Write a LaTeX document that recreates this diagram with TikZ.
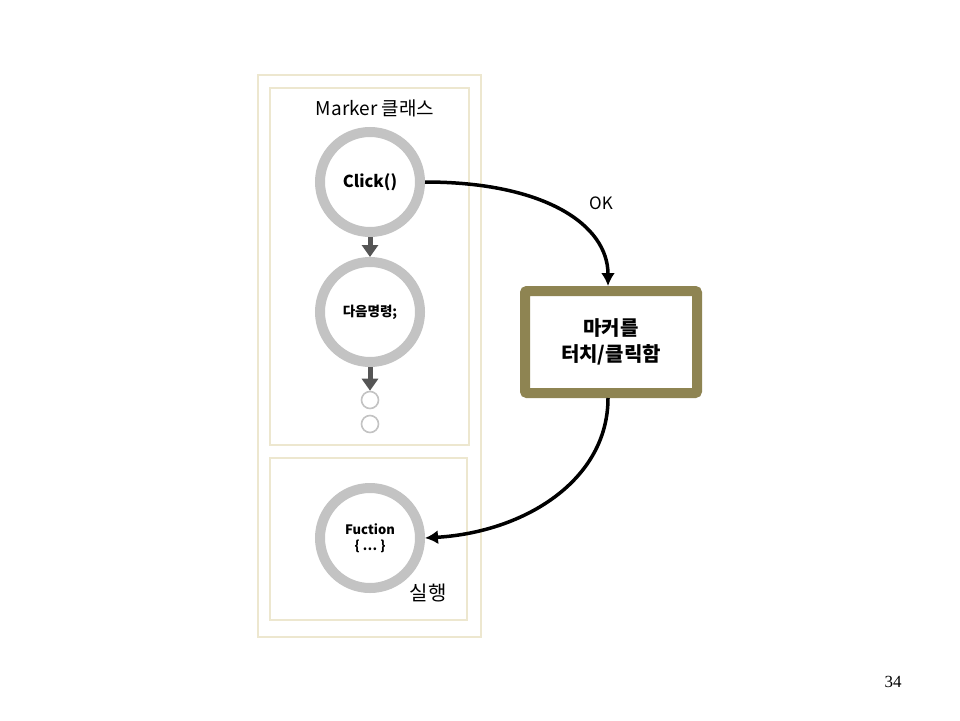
\documentclass[tikz,border=0pt]{standalone}
\usepackage{fontspec}
\setmainfont{Noto Sans CJK KR}
\newfontfamily\numfont{Liberation Serif}
\usetikzlibrary{arrows.meta}
\definecolor{beige}{HTML}{EDE7CF}
\definecolor{ringgray}{HTML}{C3C3C3}
\definecolor{olive}{HTML}{8E8452}
\definecolor{darkarrow}{HTML}{555555}
\tikzset{
  panel/.style={draw=beige, line width=2pt, fill=white},
  ring/.style={circle, draw=ringgray, line width=10pt, minimum size=100pt, inner sep=0pt, fill=white, align=center},
  smallring/.style={circle, draw=ringgray, line width=1.6pt, minimum size=17pt, inner sep=0pt},
  downarrow/.style={draw=darkarrow, line width=5pt, -{Triangle[length=12pt,width=16pt]}},
  flow/.style={draw=black, line width=3.5pt, -{Latex[length=13pt,width=14pt]}},
  actionbox/.style={draw=olive, line width=10pt, rounded corners=2pt, fill=white, minimum width=172pt, minimum height=102pt, align=center, font=\fontsize{20}{26}\selectfont\bfseries},
}
\begin{document}
\begin{tikzpicture}[x=1pt,y=-1pt]
\useasboundingbox (0,0) rectangle (960,720);
\fill[white] (0,0) rectangle (960,720);
\draw[panel] (258,75) rectangle (481,637);
\draw[panel] (270,88) rectangle (469,445);
\draw[panel] (270,458) rectangle (467,620);
\node[font=\fontsize{19}{21}\selectfont] (title) at (375,108) {Marker 클래스};
\node[ring, font=\fontsize{16.5}{18}\selectfont\bfseries] (c1) at (370,182) {Click()};
\node[ring, font=\fontsize{13.5}{15}\selectfont\bfseries] (c2) at (370,312) {다음명령;};
\node[smallring] (s1) at (370,400) {};
\node[smallring] (s2) at (370,424) {};
\node[ring, font=\fontsize{13}{16}\selectfont\bfseries] (c3) at (370,538) {Fuction\\\{ … \}};
\node[font=\fontsize{20}{22}\selectfont] (run) at (428,593) {실행};
\node[actionbox] (box) at (611,342) {마커를\\터치/클릭함};
\node[font=\fontsize{17}{19}\selectfont] (ok) at (601,203) {OK};
\node[font=\numfont\fontsize{17}{19}\selectfont] (page) at (893,682) {34};
\draw[downarrow] (c1.south) -- (c2.north);
\draw[downarrow] (c2.south) -- (s1.north);
\draw[flow] (c1.east) .. controls (545,182) and (608,225) .. (box.north -| 608,0);
\draw[flow] (box.south -| 608,0) .. controls (608,480) and (525,532) .. (c3.east);
\end{tikzpicture}
\end{document}
